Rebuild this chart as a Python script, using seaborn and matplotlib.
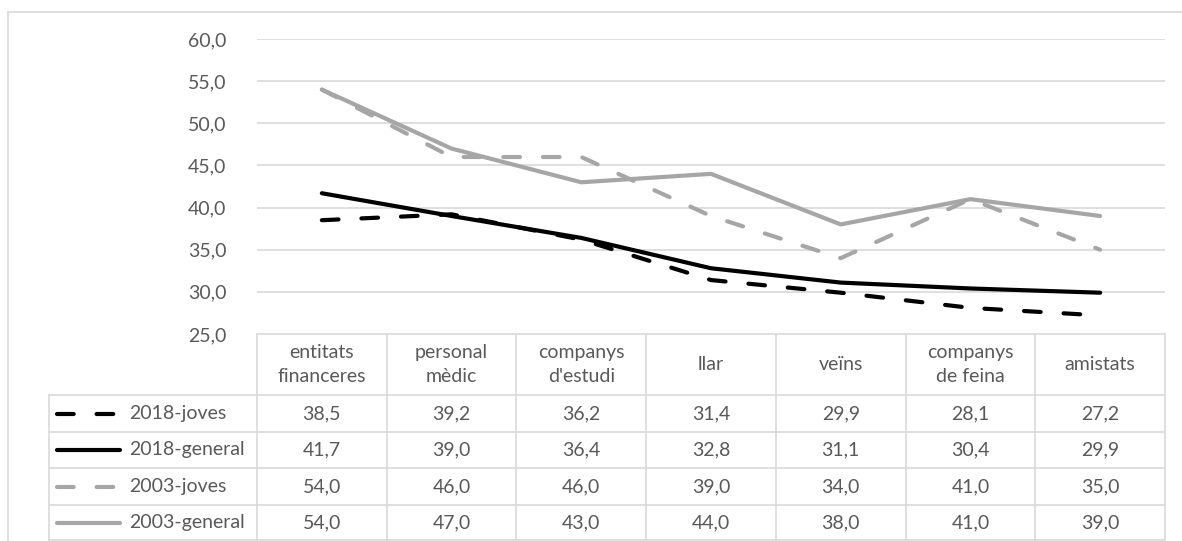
import matplotlib
matplotlib.use("Agg")
import matplotlib.pyplot as plt
from matplotlib.lines import Line2D
import numpy as np
import pandas as pd
import seaborn as sns

# Categories and series values
categories = ["entitats\nfinanceres", "personal\nmèdic", "companys\nd'estudi", "llar",
              "veïns", "companys\nde feina", "amistats"]
series_names = ["2018-joves", "2018-general", "2003-joves", "2003-general"]
joves_2018 = [38.5, 39.2, 36.2, 31.4, 29.9, 28.1, 27.2]
general_2018 = [41.7, 39.0, 36.4, 32.8, 31.1, 30.4, 29.9]
joves_2003 = [54.0, 46.0, 46.0, 39.0, 34.0, 41.0, 35.0]
general_2003 = [54.0, 47.0, 43.0, 44.0, 38.0, 41.0, 39.0]
y_ticks = [25, 30, 35, 40, 45, 50, 55, 60]

series_values = [joves_2018, general_2018, joves_2003, general_2003]
colors = {"2018-joves": "#000000", "2018-general": "#000000",
          "2003-joves": "#a6a6a6", "2003-general": "#a6a6a6"}
dash_map = {"2018-joves": (4, 5.5), "2018-general": "",
            "2003-joves": (4, 5.5), "2003-general": ""}

rows = []
for name, vals in zip(series_names, series_values):
    for i, v in enumerate(vals):
        rows.append({"serie": name, "pos": i, "valor": v})
df = pd.DataFrame(rows)

sns.set_theme(style="white")
plt.rcParams["font.family"] = ["Lato", "DejaVu Sans"]
TXT = "#595959"
GRID = "#d9d9d9"
FS = 14
LW = 3.0

W, H = 1182, 541
fig = plt.figure(figsize=(W / 100, H / 100), dpi=100)
fig.patch.set_facecolor("white")

def fx(px):
    return px / W

def fy(py):
    return 1 - py / H

x0, x1 = 257, 1165
y_top, y_bot = 39, 334
ax = fig.add_axes([fx(x0), fy(y_bot), (x1 - x0) / W, (y_bot - y_top) / H])

sns.lineplot(data=df, x="pos", y="valor", hue="serie", style="serie",
             hue_order=series_names, style_order=series_names,
             palette=colors, dashes=dash_map, linewidth=LW,
             legend=False, sort=False, ax=ax)
for ln in ax.lines:
    ln.set_dash_capstyle("round")
    ln.set_solid_capstyle("round")
    ln.set_solid_joinstyle("round")

ax.set_xlim(-0.5, len(categories) - 0.5)
ax.set_ylim(y_ticks[0], y_ticks[-1])
ax.set_yticks(y_ticks)
ax.set_yticklabels([f"{t:.1f}".replace(".", ",") for t in y_ticks],
                   color=TXT, fontsize=FS)
ax.tick_params(axis="y", length=0, pad=22)
ax.set_xticks([])
ax.set_xlabel("")
ax.set_ylabel("")
for s in ax.spines.values():
    s.set_visible(False)
for t in y_ticks[1:]:
    ax.axhline(t, color=GRID, lw=1.2, zorder=0)

# Outer chart border
fig.add_artist(Line2D([fx(8), fx(W)], [fy(12), fy(12)], color=GRID, lw=1.2,
                      transform=fig.transFigure))
fig.add_artist(Line2D([fx(8), fx(8)], [fy(12), fy(H)], color=GRID, lw=1.2,
                      transform=fig.transFigure))

# Data table below the plot
col_w = (x1 - x0) / len(categories)
table_left = 49
row_edges = [334, 395, 432, 468, 505, 540]

def hline(y, xa, xb):
    fig.add_artist(Line2D([fx(xa), fx(xb)], [fy(y), fy(y)], color=GRID, lw=1.2,
                          transform=fig.transFigure))

def vline(x, ya, yb):
    fig.add_artist(Line2D([fx(x), fx(x)], [fy(ya), fy(yb)], color=GRID, lw=1.2,
                          transform=fig.transFigure))

hline(row_edges[0], x0, x1)
for y in row_edges[1:]:
    hline(y, table_left, x1)
for k in range(len(categories) + 1):
    vline(x0 + k * col_w, row_edges[0], row_edges[-1])
vline(table_left, row_edges[1], row_edges[-1])

for k, cat in enumerate(categories):
    fig.text(fx(x0 + (k + 0.5) * col_w), fy((row_edges[0] + row_edges[1]) / 2), cat,
             ha="center", va="center", color=TXT, fontsize=FS, linespacing=1.45)

for r, (name, vals) in enumerate(zip(series_names, series_values)):
    yc = (row_edges[r + 1] + row_edges[r + 2]) / 2
    key = Line2D([fx(57), fx(120)], [fy(yc), fy(yc)], color=colors[name], lw=LW,
                 transform=fig.transFigure, solid_capstyle="round",
                 dash_capstyle="round")
    if dash_map[name]:
        key.set_dashes(dash_map[name])
    fig.add_artist(key)
    fig.text(fx(129), fy(yc), name, ha="left", va="center", color=TXT, fontsize=FS)
    for k, v in enumerate(vals):
        fig.text(fx(x0 + (k + 0.5) * col_w), fy(yc), f"{v:.1f}".replace(".", ","),
                 ha="center", va="center", color=TXT, fontsize=FS)

fig.savefig("out.png", dpi=100, facecolor="white")
